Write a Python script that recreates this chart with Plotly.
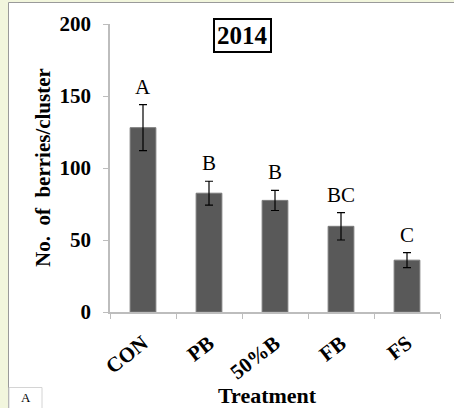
import plotly.graph_objects as go

# Number of berries per cluster by treatment, 2014
treatments = ["CON", "PB", "50%B", "FB", "FS"]
berries = [128, 82.5, 77.5, 59.5, 36]
berries_se = [16, 8.3, 7, 9.5, 5.2]
groups = ["A", "B", "B", "BC", "C"]
y_ticks = [0, 50, 100, 150, 200]

W, H = 454, 408
L, R, T, B = 110, 14, 24, 96
pw, ph = W - L - R, H - T - B


def px_x(p):
    return (p - L) / pw


def px_y(p):
    return (H - B - p) / ph


serif = "'Liberation Serif', 'Times New Roman', serif"
fig = go.Figure()

fig.add_trace(go.Bar(
    x=treatments,
    y=berries,
    width=0.39,
    marker=dict(color="#595959", line=dict(color="#7a7a7a", width=1)),
    error_y=dict(type="data", array=berries_se, visible=True,
                 color="#000000", thickness=1.2, width=4),
    showlegend=False,
))

annotations = []
for t, v, e, g in zip(treatments, berries, berries_se, groups):
    annotations.append(dict(
        x=t, y=v + e, xref="x", yref="y", text=g, showarrow=False,
        yshift=18, yanchor="middle",
        font=dict(family=serif, size=21, color="#000000"),
    ))

# boxed year title
annotations.append(dict(
    x=px_x(242), y=px_y(36), xref="paper", yref="paper", text="<b>2014</b>",
    showarrow=False, xanchor="center", yanchor="middle",
    font=dict(family=serif, size=25, color="#000000"),
    bordercolor="#000000", borderwidth=2, borderpad=2, bgcolor="#ffffff",
))

# axis titles
annotations.append(dict(
    x=px_x(43), y=px_y(168), xref="paper", yref="paper",
    text="<b>No.&nbsp; of&nbsp; berries/cluster</b>", textangle=-90,
    showarrow=False, xanchor="center", yanchor="middle",
    font=dict(family=serif, size=21, color="#000000"),
))
annotations.append(dict(
    x=px_x(267), y=px_y(395), xref="paper", yref="paper",
    text="<b>Treatment</b>", showarrow=False, xanchor="center", yanchor="middle",
    font=dict(family=serif, size=22, color="#000000"),
))

# panel letter
annotations.append(dict(
    x=px_x(26), y=px_y(407), xref="paper", yref="paper",
    text="A", showarrow=False, xanchor="center", yanchor="bottom",
    font=dict(family=serif, size=13, color="#000000"),
))

shapes = [
    # white panel with grey edge over the pale green page
    dict(type="rect", xref="paper", yref="paper", layer="below",
         x0=px_x(8.5), x1=px_x(460), y0=px_y(420), y1=px_y(2.5),
         fillcolor="#ffffff", line=dict(color="#9a9a9a", width=1)),
    # small label box in the lower left
    dict(type="rect", xref="paper", yref="paper", layer="below",
         x0=px_x(9), x1=px_x(42), y0=px_y(420), y1=px_y(387.5),
         fillcolor="#ffffff", line=dict(color="#d4d4d4", width=1)),
]

fig.update_layout(
    width=W, height=H,
    margin=dict(l=L, r=R, t=T, b=B, pad=0),
    paper_bgcolor="#f2f6dd",
    plot_bgcolor="rgba(0,0,0,0)",
    annotations=annotations,
    shapes=shapes,
    xaxis=dict(
        range=[-0.5, 4.5], showgrid=False, zeroline=False,
        showline=True, linecolor="#bdbdbd", linewidth=1.5,
        ticks="outside", ticklen=5, tickcolor="#bdbdbd",
        tickmode="array", tickvals=[i - 0.5 for i in range(6)],
        ticktext=[""] * 6,
    ),
    xaxis2=dict(
        overlaying="x", matches="x", side="bottom", showgrid=False,
        zeroline=False, showline=False, ticks="",
        tickmode="array", tickvals=treatments,
        ticktext=[f"<b>{t}</b>" for t in treatments],
        tickangle=-38, ticklabelstandoff=14,
        tickfont=dict(family=serif, size=21, color="#000000"),
    ),
    yaxis=dict(
        range=[0, 200], showgrid=False, zeroline=False,
        showline=True, linecolor="#bdbdbd", linewidth=1.5,
        ticks="outside", ticklen=5, tickcolor="#bdbdbd",
        tickmode="array", tickvals=y_ticks,
        ticktext=[f"<b>{v}</b>" for v in y_ticks], ticklabelstandoff=8,
        tickfont=dict(family=serif, size=21, color="#000000"),
    ),
    bargap=0.6,
)

# invisible trace to carry the category labels on the second x axis
fig.add_trace(go.Scatter(x=treatments, y=[0] * 5, xaxis="x2", mode="markers",
                         marker=dict(opacity=0), showlegend=False,
                         hoverinfo="skip"))

fig.write_html("out.html")
